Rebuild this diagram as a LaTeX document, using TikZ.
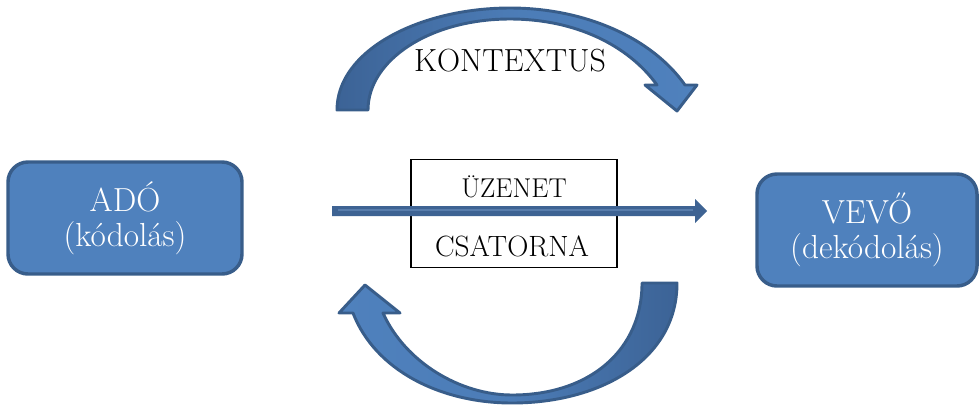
\documentclass[tikz,border=0pt]{standalone}
\usetikzlibrary{arrows.meta}
\definecolor{boxfill}{RGB}{79,129,189}
\definecolor{boxline}{RGB}{56,93,138}
\definecolor{backface}{RGB}{60,99,150}
\definecolor{midarrow}{RGB}{62,99,147}
\definecolor{midlight}{RGB}{88,125,172}
\tikzset{
  endbox/.style={draw=boxline, fill=boxfill, line width=2.6pt, rounded corners=15pt,
    text=white, align=center, font=\fontsize{25}{26.5}\selectfont, inner sep=0pt},
  curvearrow/.style={draw=boxline, line width=2.2pt, line join=round},
  centerbox/.style={draw=black, fill=white, line width=1.1pt, inner sep=0pt},
  boxtext/.style={text=black, inner sep=0pt}
}
\begin{document}
\begin{tikzpicture}[x=0.75pt,y=-0.75pt]
\useasboundingbox (0,0) rectangle (980,405);

% end boxes
\node[endbox, minimum width=234*0.75pt, minimum height=112*0.75pt] (ado) at (125,218)
  {ADÓ\\(kódolás)};
\node[endbox, minimum width=220*0.75pt, minimum height=112*0.75pt] (vevo) at (867,230)
  {VEVŐ\\(dekódolás)};

% center box
\node[centerbox, minimum width=206*0.75pt, minimum height=108*0.75pt] (chan) at (514,213.5) {};
\node[boxtext, font=\fontsize{20.4}{24}\selectfont] (uzenet) at (514,187) {ÜZENET};
\node[boxtext, font=\fontsize{22}{26}\selectfont] (csatorna) at (512,246) {CSATORNA};

% middle arrow
\coordinate (ms) at (332,211);
\coordinate (me) at (707,211);
\fill[midarrow] ([yshift=-5pt*0.75]ms) -- ([xshift=-12*0.75pt, yshift=-5*0.75pt]me)
  -- ([xshift=-12*0.75pt, yshift=-12*0.75pt]me) -- (me)
  -- ([xshift=-12*0.75pt, yshift=12*0.75pt]me) -- ([xshift=-12*0.75pt, yshift=5*0.75pt]me)
  -- ([yshift=5*0.75pt]ms) -- cycle;
\draw[midlight, line width=0.8pt] ([xshift=6*0.75pt, yshift=1*0.75pt]ms) -- ([xshift=-14*0.75pt, yshift=1*0.75pt]me);

% top curved arrow (KONTEXTUS)
\shade[left color=backface, right color=boxfill, middle color=boxfill!85!backface]
  (337,110) .. controls (337,50) and (420,8) .. (510,8)
  .. controls (585,8) and (652,38) .. (685,85)
  -- (697,85) -- (677,111) -- (645,85) -- (657,85)
  .. controls (628,45) and (575,19) .. (510,19)
  .. controls (430,19) and (368,60) .. (368,110) -- cycle;
\draw[curvearrow]
  (337,110) .. controls (337,50) and (420,8) .. (510,8)
  .. controls (585,8) and (652,38) .. (685,85)
  -- (697,85) -- (677,111) -- (645,85) -- (657,85)
  .. controls (628,45) and (575,19) .. (510,19)
  .. controls (430,19) and (368,60) .. (368,110) -- cycle;
\node[boxtext, font=\fontsize{24}{28}\selectfont] (kontextus) at (510,61) {KONTEXTUS};

% bottom curved arrow
\shade[left color=boxfill, right color=backface, middle color=boxfill!85!backface]
  (677,283) .. controls (677,360) and (600,403) .. (512,403)
  .. controls (440,403) and (375,370) .. (353,313)
  -- (339,313) -- (365,285) -- (400,313) -- (383,313)
  .. controls (405,362) and (460,395) .. (512,395)
  .. controls (590,395) and (642,350) .. (642,283) -- cycle;
\draw[curvearrow]
  (677,283) .. controls (677,360) and (600,403) .. (512,403)
  .. controls (440,403) and (375,370) .. (353,313)
  -- (339,313) -- (365,285) -- (400,313) -- (383,313)
  .. controls (405,362) and (460,395) .. (512,395)
  .. controls (590,395) and (642,350) .. (642,283) -- cycle;
\end{tikzpicture}
\end{document}
